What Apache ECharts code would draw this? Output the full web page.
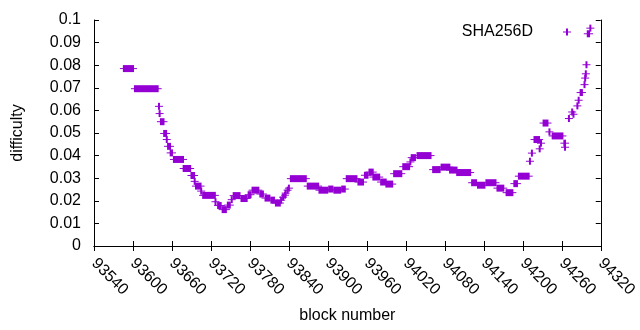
<!DOCTYPE html>
<html>
<head>
<meta charset="utf-8">
<script src="https://cdn.jsdelivr.net/npm/echarts@6/dist/echarts.min.js"></script>
<style>html,body{margin:0;padding:0;background:#fff;}#c{width:640px;height:330px;}</style>
</head>
<body>
<div id="c"></div>
<script>
// Runs of constant difficulty: first block, last block, difficulty
const runStart = [93586,93603,93640,93641,93643,93648,93652,93654,93658,93663,93678,93690,93695,93697,93705,93708,93727,93731,93738,93746,93752,93755,93767,93778,93784,93796,93804,93813,93820,93828,93831,93834,93835,93838,93840,93843,93869,93887,93902,93910,93922,93929,93947,93957,93964,93970,93982,93990,94002,94016,94027,94029,94038,94062,94075,94088,94099,94122,94131,94144,94161,94175,94187,94194,94211,94214,94218,94226,94228,94232,94241,94246,94264,94265,94271,94276,94278,94284,94286,94289,94295,94296,94297,94298,94300,94304];
const runEnd   = [93600,93638,93640,93641,93647,93651,93652,93657,93660,93677,93688,93694,93695,93704,93705,93726,93727,93735,93743,93749,93752,93764,93775,93781,93793,93800,93810,93817,93826,93828,93831,93834,93835,93838,93840,93866,93885,93899,93907,93919,93926,93944,93954,93961,93969,93979,93989,93999,94013,94025,94027,94034,94058,94072,94087,94098,94119,94128,94141,94158,94170,94184,94191,94209,94211,94214,94225,94226,94228,94238,94241,94261,94265,94265,94271,94276,94278,94284,94286,94291,94295,94296,94297,94298,94302,94304];
const runValue = [0.0785,0.0696,0.0618,0.0586,0.0550,0.0498,0.0471,0.0441,0.0412,0.0383,0.0343,0.0312,0.0286,0.0265,0.0243,0.0224,0.0196,0.0179,0.0161,0.0181,0.0205,0.0223,0.0210,0.0227,0.0247,0.0230,0.0212,0.0203,0.0190,0.0203,0.0216,0.0225,0.0234,0.0247,0.0256,0.0298,0.0265,0.0247,0.0252,0.0247,0.0252,0.0298,0.0283,0.0313,0.0327,0.0305,0.0283,0.0274,0.0320,0.0351,0.0372,0.0391,0.0400,0.0338,0.0349,0.0336,0.0325,0.0280,0.0269,0.0280,0.0256,0.0236,0.0276,0.0309,0.0375,0.0411,0.0471,0.0430,0.0455,0.0544,0.0505,0.0487,0.0455,0.0437,0.0564,0.0593,0.0583,0.0620,0.0645,0.0679,0.0714,0.0743,0.0762,0.0802,0.0939,0.0964];
const xTickLabels = ['93540','93600','93660','93720','93780','93840','93900','93960','94020','94080','94140','94200','94260','94320'];
const yTickLabels = ['0','0.01','0.02','0.03','0.04','0.05','0.06','0.07','0.08','0.09','0.1'];
const seriesName = 'SHA256D';

const COLOR = '#9400d3';
const FONT = 'Liberation Sans';
const data = runStart.map((s, i) => [s, runEnd[i], runValue[i]]);

const chart = echarts.init(document.getElementById('c'), null, {renderer: 'canvas'});
const axisCommon = {
  axisLine: {show: true, lineStyle: {color: '#000', width: 1}},
  axisTick: {show: true, inside: true, length: 5, lineStyle: {color: '#000', width: 1}},
  splitLine: {show: false}
};
chart.setOption({
  animation: false,
  grid: {left: 94, right: 31, top: 20, bottom: 84, show: false},
  graphic: [
    {type: 'text', left: null, x: 533, y: 32,
     style: {text: seriesName, fontFamily: FONT, fontSize: 16, fill: '#000', align: 'right', verticalAlign: 'middle'}},
    {type: 'rect', x: 0, y: 0, shape: {x: 566, y: 28.5, width: 2, height: 7}, style: {fill: COLOR}},
    {type: 'rect', x: 0, y: 0, shape: {x: 563, y: 31.5, width: 8, height: 1}, style: {fill: COLOR}}
  ],
  xAxis: [
    Object.assign({
      type: 'value', min: 93540, max: 94320, interval: 60, position: 'bottom',
      name: 'block number', nameLocation: 'middle', nameGap: 62,
      nameTextStyle: {fontFamily: FONT, fontSize: 16, color: '#000'},
      axisLabel: {rotate: -45, margin: 15, fontFamily: FONT, fontSize: 16, color: '#000',
        formatter: (v, i) => xTickLabels[Math.round((v - 93540) / 60)]}
    }, axisCommon),
    Object.assign({
      type: 'value', min: 93540, max: 94320, interval: 60, position: 'top',
      axisLabel: {show: false}
    }, axisCommon)
  ],
  yAxis: [
    Object.assign({
      type: 'value', min: 0, max: 0.1, interval: 0.01, position: 'left',
      name: 'difficulty', nameLocation: 'middle', nameGap: 68, nameRotate: 90,
      nameTextStyle: {fontFamily: FONT, fontSize: 16, color: '#000'},
      axisLabel: {margin: 13, fontFamily: FONT, fontSize: 16, color: '#000',
        formatter: (v) => yTickLabels[Math.round(v * 100)]}
    }, axisCommon),
    Object.assign({
      type: 'value', min: 0, max: 0.1, interval: 0.01, position: 'right',
      axisLabel: {show: false}
    }, axisCommon)
  ],
  series: [{
    name: seriesName,
    type: 'custom',
    xAxisIndex: 0, yAxisIndex: 0,
    itemStyle: {color: COLOR},
    encode: {x: [0, 1], y: 2},
    data: data,
    renderItem: function (params, api) {
      const y = api.value(2);
      const p0 = api.coord([api.value(0), y]);
      const p1 = api.coord([api.value(1), y]);
      return {
        type: 'group',
        children: [
          {type: 'rect', shape: {x: p0[0] - 1, y: p0[1] - 3.5, width: p1[0] - p0[0] + 2, height: 7}, style: {fill: COLOR}},
          {type: 'rect', shape: {x: p0[0] - 4, y: p0[1] - 0.5, width: p1[0] - p0[0] + 8, height: 1}, style: {fill: COLOR}}
        ]
      };
    }
  }]
});
</script>
</body>
</html>
